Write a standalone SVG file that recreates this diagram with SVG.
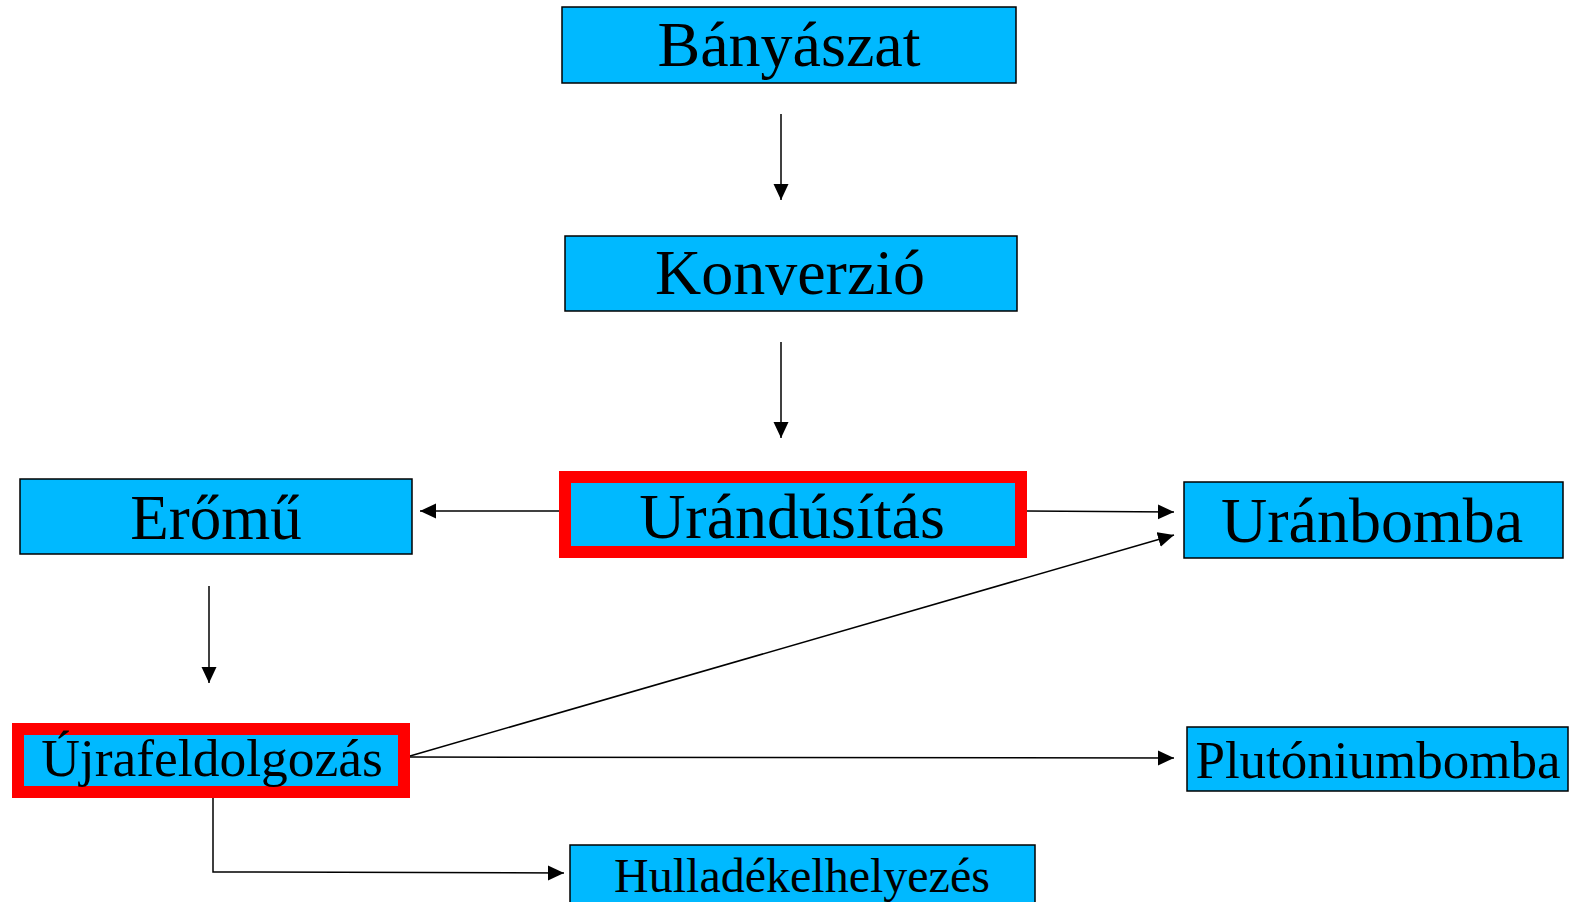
<svg xmlns="http://www.w3.org/2000/svg" width="1572" height="902" viewBox="0 0 1572 902">
<style>
.box{fill:#00B9FF;stroke:#000;stroke-width:1.5}
.hl{fill:#00B9FF;stroke:#FF0000;stroke-width:12}
.t{font-family:"Liberation Serif","Times New Roman",serif;fill:#000;text-anchor:middle}
.c{fill:none;stroke:#000;stroke-width:1.5}
</style>
<defs>
<marker id="ah" markerUnits="userSpaceOnUse" markerWidth="16" markerHeight="16" viewBox="0 0 16 16" refX="16" refY="8" orient="auto">
<path d="M0,0.5 L16,8 L0,15.5 Z" fill="#000"/>
</marker>
</defs>
<rect width="1572" height="902" fill="#fff"/>
<g id="connectors">
<line class="c" x1="781" y1="114" x2="781" y2="200" marker-end="url(#ah)"/>
<line class="c" x1="781" y1="342" x2="781" y2="438" marker-end="url(#ah)"/>
<line class="c" x1="563" y1="511" x2="420" y2="511" marker-end="url(#ah)"/>
<line class="c" x1="1027" y1="511" x2="1174" y2="512" marker-end="url(#ah)"/>
<line class="c" x1="209" y1="586" x2="209" y2="683" marker-end="url(#ah)"/>
<line class="c" x1="410" y1="756" x2="1174" y2="535" marker-end="url(#ah)"/>
<line class="c" x1="410" y1="757" x2="1174" y2="758" marker-end="url(#ah)"/>
<polyline class="c" points="213,793 213,872 564,873" marker-end="url(#ah)"/>
</g>
<g id="banyaszat">
<rect class="box" x="562" y="7" width="454" height="76"/>
<text class="t" x="789" y="66" font-size="64">Bányászat</text>
</g>
<g id="konverzio">
<rect class="box" x="565" y="236" width="452" height="75"/>
<text class="t" x="790" y="294" font-size="64">Konverzió</text>
</g>
<g id="eromu">
<rect class="box" x="20" y="479" width="392" height="75"/>
<text class="t" x="216" y="539" font-size="63">Erőmű</text>
</g>
<g id="urandusitas">
<rect class="hl" x="565" y="477" width="456" height="75"/>
<text class="t" x="792" y="538" font-size="64">Urándúsítás</text>
</g>
<g id="uranbomba">
<rect class="box" x="1184" y="482" width="379" height="76"/>
<text class="t" x="1372" y="542" font-size="64">Uránbomba</text>
</g>
<g id="ujrafeldolgozas">
<rect class="hl" x="18" y="729" width="386" height="63"/>
<text class="t" x="212" y="776" font-size="53.5">Újrafeldolgozás</text>
</g>
<g id="plutoniumbomba">
<rect class="box" x="1187" y="727" width="381" height="64"/>
<text class="t" x="1378" y="778" font-size="53">Plutóniumbomba</text>
</g>
<g id="hulladekelhelyezes">
<rect class="box" x="570" y="845" width="465" height="70"/>
<text class="t" x="802" y="892" font-size="48">Hulladékelhelyezés</text>
</g>
</svg>
